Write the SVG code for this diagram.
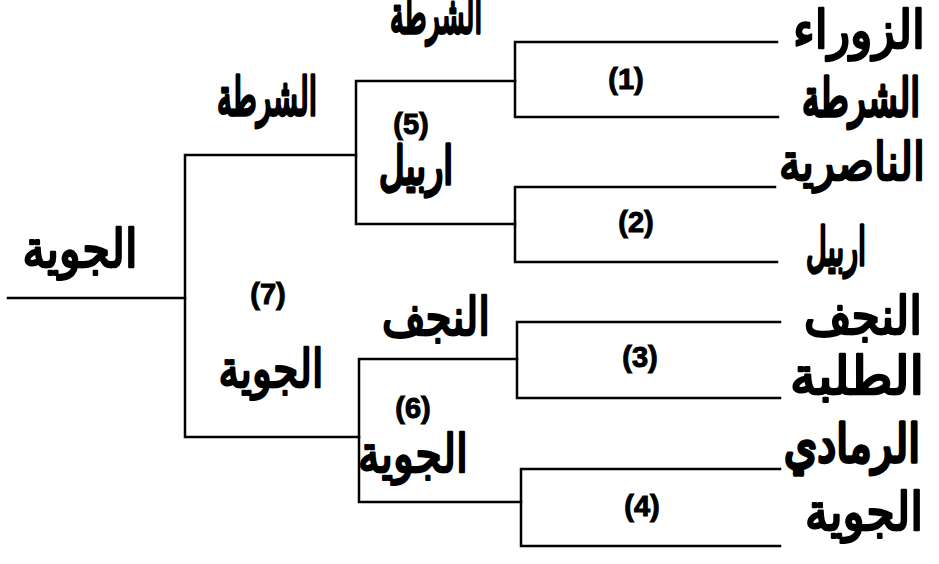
<svg xmlns="http://www.w3.org/2000/svg" width="939" height="564" viewBox="0 0 939 564">
<style>
.ln{fill:none;stroke:#000;stroke-width:2.5;stroke-linecap:square}
.ar{font-family:"DejaVu Sans",sans-serif;font-weight:normal;fill:#000;stroke:#000;stroke-width:2.6;stroke-linejoin:round;font-size:52px;text-anchor:middle}
.hv{stroke-width:3.6}
.nm{font-family:"Liberation Sans",Arial,sans-serif;font-weight:bold;fill:#000;stroke:#000;stroke-width:1;font-size:29px;text-anchor:middle}
</style>
<rect width="939" height="564" fill="#fff"/>
<g id="connectors">
<path class="ln" d="M777,42 H515 V117 H778"/>
<path class="ln" d="M775,187 H515 V262 H777"/>
<path class="ln" d="M780,322 H517 V398 H780"/>
<path class="ln" d="M780,469 H521 V546 H780"/>
<path class="ln" d="M515,81 H356 V224 H515"/>
<path class="ln" d="M517,359 H359 V502 H521"/>
<path class="ln" d="M356,155 H185 V437 H359"/>
<path class="ln" d="M8,298 H185"/>
</g>
<g id="team-zawraa"><text class="ar" x="859" y="48" textLength="132" lengthAdjust="spacingAndGlyphs">الزوراء</text></g>
<g id="team-shorta"><text class="ar hv" x="861" y="116" textLength="118" lengthAdjust="spacingAndGlyphs">الشرطة</text></g>
<g id="team-nasiriya"><text class="ar" x="852" y="180" textLength="146" lengthAdjust="spacingAndGlyphs">الناصرية</text></g>
<g id="team-erbil"><text class="ar hv" x="836" y="265" textLength="60" lengthAdjust="spacingAndGlyphs">اربيل</text></g>
<g id="team-najaf"><text class="ar" x="863" y="334" textLength="118" lengthAdjust="spacingAndGlyphs">النجف</text></g>
<g id="team-talaba"><text class="ar" x="857" y="394" textLength="134" lengthAdjust="spacingAndGlyphs">الطلبة</text></g>
<g id="team-ramadi"><text class="ar hv" x="852" y="462" textLength="136" lengthAdjust="spacingAndGlyphs">الرمادي</text></g>
<g id="team-jawiya"><text class="ar" x="864" y="530" textLength="118" lengthAdjust="spacingAndGlyphs">الجوية</text></g>
<g id="match-1"><text class="nm" x="626" y="89">(1)</text></g>
<g id="match-2"><text class="nm" x="636" y="232">(2)</text></g>
<g id="match-3"><text class="nm" x="640" y="367">(3)</text></g>
<g id="match-4"><text class="nm" x="642" y="516">(4)</text></g>
<g id="match-5">
<text class="ar hv" x="436" y="33" textLength="92" lengthAdjust="spacingAndGlyphs">الشرطة</text>
<text class="nm" x="411" y="134">(5)</text>
<text class="ar hv" x="416" y="184" textLength="74" lengthAdjust="spacingAndGlyphs">اربيل</text>
</g>
<g id="match-6">
<text class="ar" x="436" y="335" textLength="108" lengthAdjust="spacingAndGlyphs">النجف</text>
<text class="nm" x="413" y="418">(6)</text>
<text class="ar" x="413" y="472" textLength="110" lengthAdjust="spacingAndGlyphs">الجوية</text>
</g>
<g id="match-7">
<text class="ar hv" x="267" y="115" textLength="100" lengthAdjust="spacingAndGlyphs">الشرطة</text>
<text class="nm" x="268" y="304">(7)</text>
<text class="ar" x="271" y="387" textLength="105" lengthAdjust="spacingAndGlyphs">الجوية</text>
</g>
<g id="winner"><text class="ar" x="80" y="267" textLength="115" lengthAdjust="spacingAndGlyphs">الجوية</text></g>
</svg>
